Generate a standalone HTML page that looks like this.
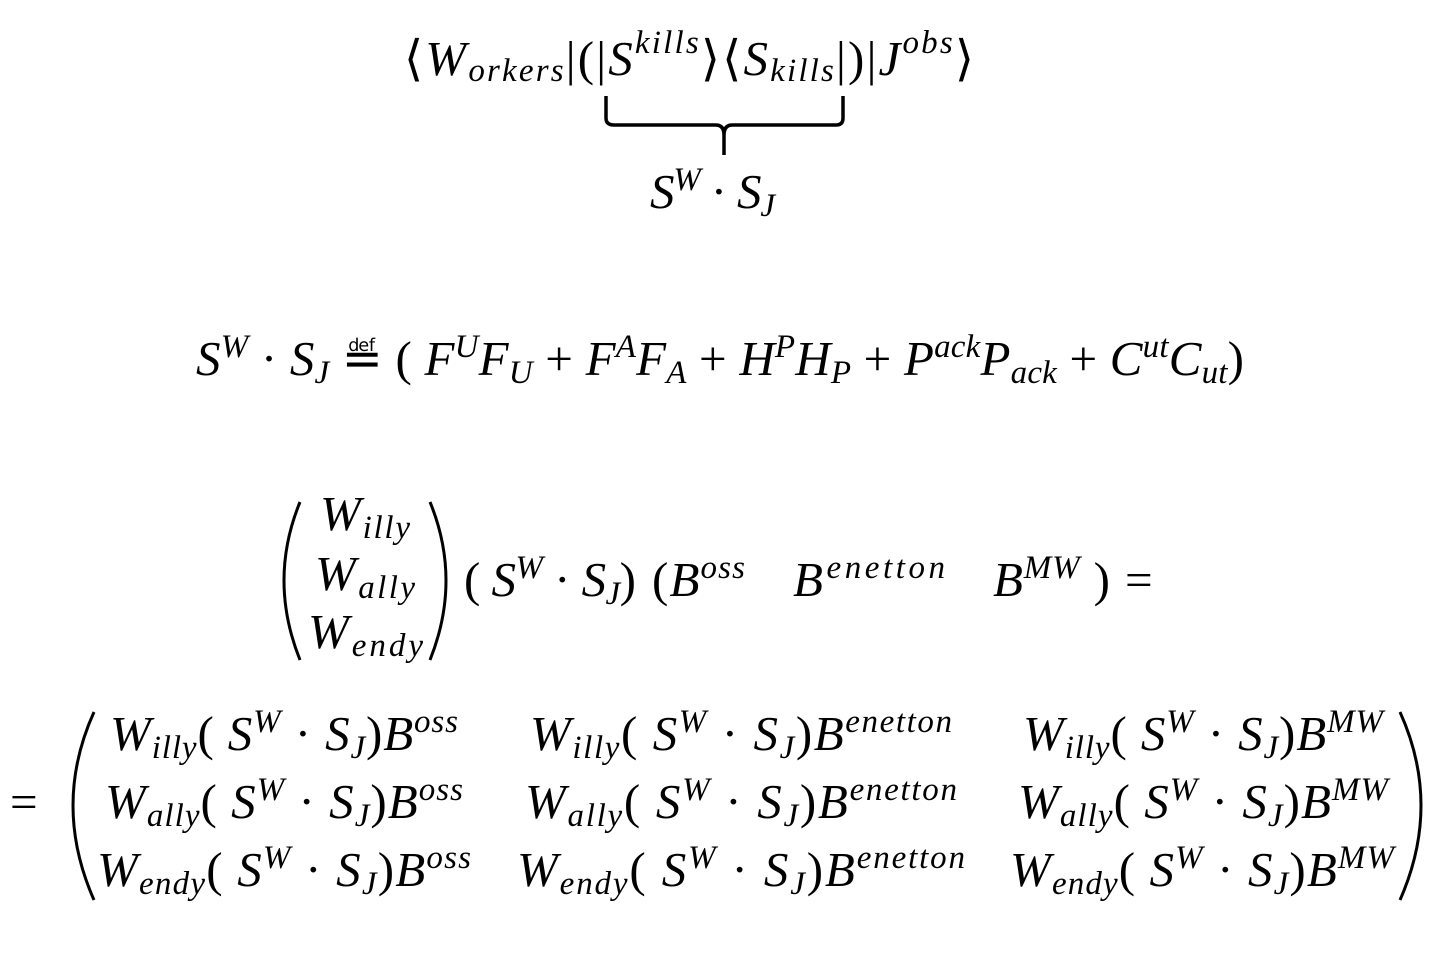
<!DOCTYPE html>
<html><head><meta charset="utf-8"><style>
html,body{margin:0;padding:0;background:#fff;}
svg{display:block}
text{font-family:"Liberation Serif","DejaVu Serif",serif;font-style:italic;font-size:49px;fill:#000}
.s{font-size:33px}
.n{font-style:normal}
</style></head><body>
<svg width="1438" height="954" viewBox="0 0 1438 954" xmlns="http://www.w3.org/2000/svg">
<!-- line 1 -->
<text x="404" y="75" textLength="570" lengthAdjust="spacing"><tspan class="n">⟨</tspan>W<tspan class="s" dy="6">orkers</tspan><tspan class="n" dy="-6">|(|</tspan>S<tspan class="s" dy="-22">kills</tspan><tspan class="n" dy="22">⟩⟨</tspan>S<tspan class="s" dy="6">kills</tspan><tspan class="n" dy="-6">|)|</tspan>J<tspan class="s" dy="-22">obs</tspan><tspan class="n" dy="22">⟩</tspan></text>
<path d="M606 96 V118 Q606 125 614 125 H716 Q724 125 724 135 V155 M724 135 Q724 125 732 125 H836 Q843 125 843 118 V96" fill="none" stroke="#000" stroke-width="3.5"/>
<text x="650" y="208" textLength="125" lengthAdjust="spacing">S<tspan class="s" dy="-18">W</tspan><tspan class="n" dy="18"> · </tspan>S<tspan class="s" dy="8">J</tspan></text>
<!-- line 2 -->
<text x="196" y="375" textLength="1048" lengthAdjust="spacing">S<tspan class="s" dy="-18">W</tspan><tspan class="n" dy="18"> · </tspan>S<tspan class="s" dy="8">J</tspan><tspan class="n" dy="-8"> ≝ ( </tspan>F<tspan class="s" dy="-18">U</tspan><tspan dy="18">F</tspan><tspan class="s" dy="8">U</tspan><tspan class="n" dy="-8"> + </tspan>F<tspan class="s" dy="-18">A</tspan><tspan dy="18">F</tspan><tspan class="s" dy="8">A</tspan><tspan class="n" dy="-8"> + </tspan>H<tspan class="s" dy="-18">P</tspan><tspan dy="18">H</tspan><tspan class="s" dy="8">P</tspan><tspan class="n" dy="-8"> + </tspan>P<tspan class="s" dy="-18">ack</tspan><tspan dy="18">P</tspan><tspan class="s" dy="8">ack</tspan><tspan class="n" dy="-8"> + </tspan>C<tspan class="s" dy="-18">ut</tspan><tspan dy="18">C</tspan><tspan class="s" dy="8">ut</tspan><tspan class="n" dy="-8">)</tspan></text>
<!-- line 3 -->
<path d="M300 502 Q268 580 300 660" fill="none" stroke="#000" stroke-width="3"/>
<path d="M430 502 Q462 580 430 660" fill="none" stroke="#000" stroke-width="3"/>
<text x="320" y="530" textLength="90" lengthAdjust="spacing">W<tspan class="s" dy="8">illy</tspan></text>
<text x="315" y="590" textLength="100" lengthAdjust="spacing">W<tspan class="s" dy="8">ally</tspan></text>
<text x="308" y="648" textLength="115" lengthAdjust="spacing">W<tspan class="s" dy="8">endy</tspan></text>
<text x="464" y="596" textLength="172" lengthAdjust="spacing"><tspan class="n">( </tspan>S<tspan class="s" dy="-18">W</tspan><tspan class="n" dy="18"> · </tspan>S<tspan class="s" dy="8">J</tspan><tspan class="n" dy="-8">)</tspan></text>
<text x="652" y="596" textLength="93" lengthAdjust="spacing"><tspan class="n">(</tspan>B<tspan class="s" dy="-18">oss</tspan></text>
<text x="793" y="596" textLength="152" lengthAdjust="spacing">B<tspan class="s" dy="-18">enetton</tspan></text>
<text x="993" y="596" textLength="117" lengthAdjust="spacing">B<tspan class="s" dy="-18">MW</tspan><tspan class="n" dy="18"> )</tspan></text>
<text x="1125" y="596" class="n">=</text>
<!-- matrix -->
<text x="10" y="818" class="n">=</text>
<path d="M94 712 Q52 805 94 900" fill="none" stroke="#000" stroke-width="3"/>
<path d="M1400 712 Q1442 805 1400 900" fill="none" stroke="#000" stroke-width="3"/>
<text x="110" y="750" textLength="348" lengthAdjust="spacing">W<tspan class="s" dy="8">illy</tspan><tspan class="n" dy="-8">( </tspan>S<tspan class="s" dy="-18">W</tspan><tspan class="n" dy="18"> · </tspan>S<tspan class="s" dy="8">J</tspan><tspan class="n" dy="-8">)</tspan>B<tspan class="s" dy="-18">oss</tspan></text>
<text x="105" y="818" textLength="358" lengthAdjust="spacing">W<tspan class="s" dy="8">ally</tspan><tspan class="n" dy="-8">( </tspan>S<tspan class="s" dy="-18">W</tspan><tspan class="n" dy="18"> · </tspan>S<tspan class="s" dy="8">J</tspan><tspan class="n" dy="-8">)</tspan>B<tspan class="s" dy="-18">oss</tspan></text>
<text x="97" y="886" textLength="374" lengthAdjust="spacing">W<tspan class="s" dy="8">endy</tspan><tspan class="n" dy="-8">( </tspan>S<tspan class="s" dy="-18">W</tspan><tspan class="n" dy="18"> · </tspan>S<tspan class="s" dy="8">J</tspan><tspan class="n" dy="-8">)</tspan>B<tspan class="s" dy="-18">oss</tspan></text>

<text x="530" y="750" textLength="422" lengthAdjust="spacing">W<tspan class="s" dy="8">illy</tspan><tspan class="n" dy="-8">( </tspan>S<tspan class="s" dy="-18">W</tspan><tspan class="n" dy="18"> · </tspan>S<tspan class="s" dy="8">J</tspan><tspan class="n" dy="-8">)</tspan>B<tspan class="s" dy="-18">enetton</tspan></text>
<text x="525" y="818" textLength="432" lengthAdjust="spacing">W<tspan class="s" dy="8">ally</tspan><tspan class="n" dy="-8">( </tspan>S<tspan class="s" dy="-18">W</tspan><tspan class="n" dy="18"> · </tspan>S<tspan class="s" dy="8">J</tspan><tspan class="n" dy="-8">)</tspan>B<tspan class="s" dy="-18">enetton</tspan></text>
<text x="517" y="886" textLength="448" lengthAdjust="spacing">W<tspan class="s" dy="8">endy</tspan><tspan class="n" dy="-8">( </tspan>S<tspan class="s" dy="-18">W</tspan><tspan class="n" dy="18"> · </tspan>S<tspan class="s" dy="8">J</tspan><tspan class="n" dy="-8">)</tspan>B<tspan class="s" dy="-18">enetton</tspan></text>

<text x="1023" y="750" textLength="360" lengthAdjust="spacing">W<tspan class="s" dy="8">illy</tspan><tspan class="n" dy="-8">( </tspan>S<tspan class="s" dy="-18">W</tspan><tspan class="n" dy="18"> · </tspan>S<tspan class="s" dy="8">J</tspan><tspan class="n" dy="-8">)</tspan>B<tspan class="s" dy="-18">MW</tspan></text>
<text x="1018" y="818" textLength="370" lengthAdjust="spacing">W<tspan class="s" dy="8">ally</tspan><tspan class="n" dy="-8">( </tspan>S<tspan class="s" dy="-18">W</tspan><tspan class="n" dy="18"> · </tspan>S<tspan class="s" dy="8">J</tspan><tspan class="n" dy="-8">)</tspan>B<tspan class="s" dy="-18">MW</tspan></text>
<text x="1010" y="886" textLength="384" lengthAdjust="spacing">W<tspan class="s" dy="8">endy</tspan><tspan class="n" dy="-8">( </tspan>S<tspan class="s" dy="-18">W</tspan><tspan class="n" dy="18"> · </tspan>S<tspan class="s" dy="8">J</tspan><tspan class="n" dy="-8">)</tspan>B<tspan class="s" dy="-18">MW</tspan></text>
</svg>
</body></html>
